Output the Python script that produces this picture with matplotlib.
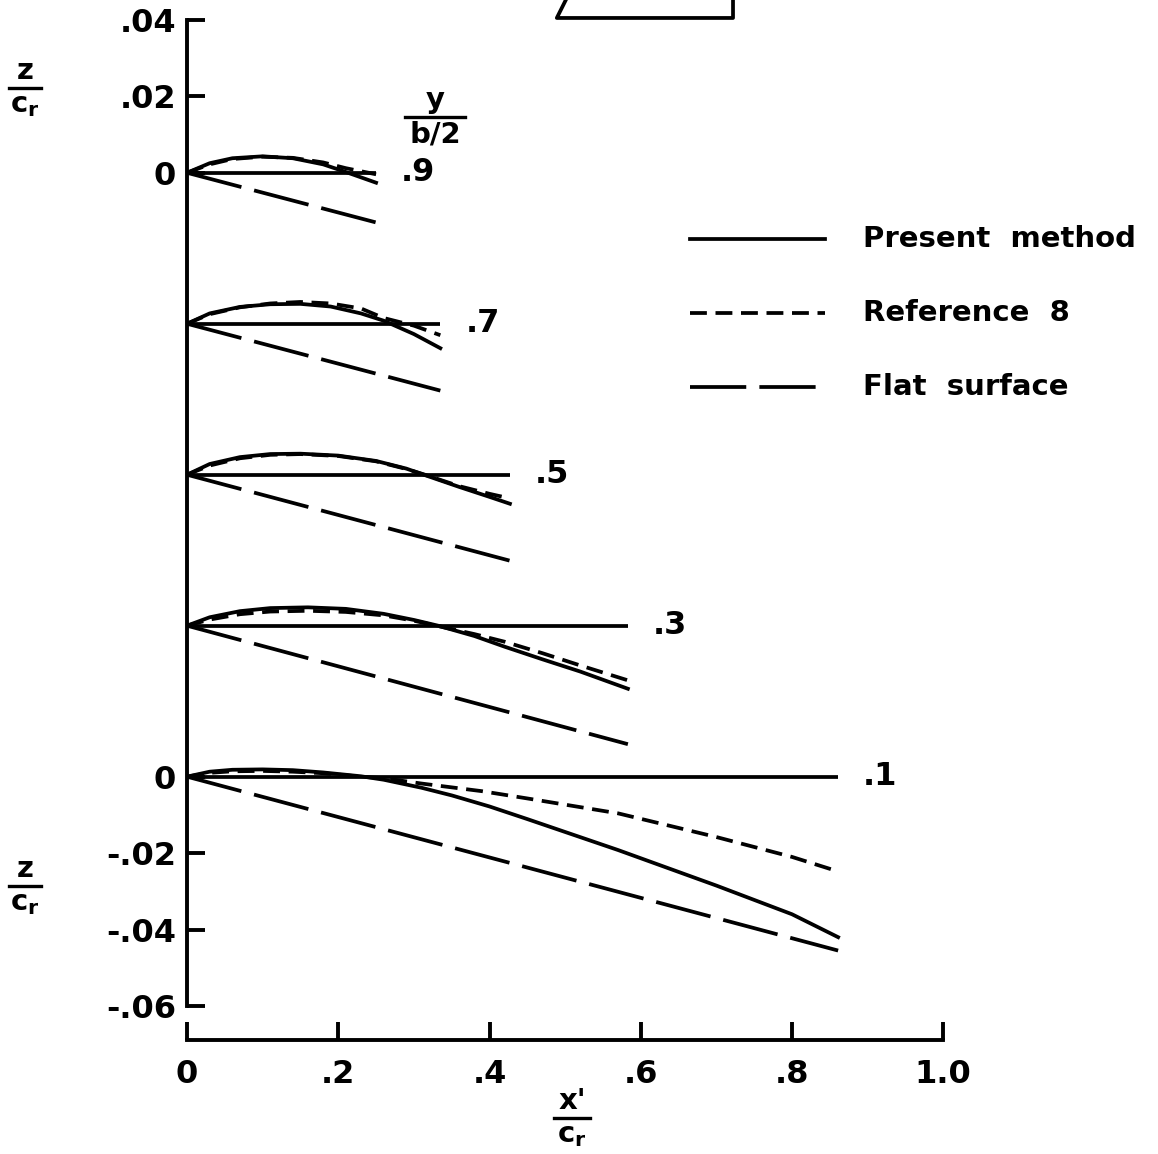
import numpy as np
import matplotlib.pyplot as plt

# ---------------------------------------------------------------
# data (z/cr relative to each station's zero)
# ---------------------------------------------------------------
stations = ['.9', '.7', '.5', '.3', '.1']
x_end = [0.25, 0.335, 0.427, 0.583, 0.861]

present_x = [
    [0, 0.03, 0.06, 0.10, 0.14, 0.18, 0.21, 0.25],
    [0, 0.03, 0.07, 0.11, 0.15, 0.19, 0.23, 0.26, 0.30, 0.335],
    [0, 0.03, 0.07, 0.11, 0.15, 0.20, 0.25, 0.29, 0.313, 0.36, 0.40, 0.427],
    [0, 0.03, 0.07, 0.11, 0.16, 0.21, 0.26, 0.30, 0.332, 0.38, 0.42, 0.47, 0.52, 0.583],
    [0, 0.03, 0.06, 0.10, 0.14, 0.18, 0.23, 0.26, 0.31, 0.35, 0.40, 0.45, 0.57, 0.70, 0.80, 0.861],
]
present_z = [
    [0, 0.0025, 0.0038, 0.0043, 0.0038, 0.0022, 0.0002, -0.0026],
    [0, 0.0027, 0.0044, 0.0051, 0.0052, 0.0045, 0.0027, 0.0008, -0.0027, -0.0064],
    [0, 0.0028, 0.0046, 0.0054, 0.0055, 0.0050, 0.0036, 0.0016, 0.0, -0.0032, -0.0058, -0.0076],
    [0, 0.0022, 0.0038, 0.0046, 0.0048, 0.0044, 0.0031, 0.0015, 0.0, -0.0027, -0.0055, -0.0088, -0.0120, -0.0165],
    [0, 0.0013, 0.0018, 0.0019, 0.0017, 0.0011, 0.0001, -0.0008, -0.0029, -0.0049, -0.0078, -0.0111, -0.0192, -0.0285, -0.0360, -0.042],
]

ref8_x = [
    [0, 0.03, 0.06, 0.10, 0.14, 0.18, 0.21, 0.25],
    [0, 0.03, 0.07, 0.11, 0.15, 0.19, 0.23, 0.26, 0.30, 0.335],
    [0, 0.03, 0.07, 0.11, 0.15, 0.20, 0.25, 0.29, 0.313, 0.36, 0.40, 0.427],
    [0, 0.03, 0.07, 0.11, 0.16, 0.21, 0.26, 0.30, 0.332, 0.38, 0.42, 0.47, 0.52, 0.583],
    [0, 0.03, 0.06, 0.10, 0.14, 0.18, 0.23, 0.26, 0.31, 0.39, 0.45, 0.57, 0.70, 0.80, 0.861],
]
ref8_z = [
    [0, 0.0022, 0.0036, 0.0042, 0.0039, 0.0027, 0.0012, -0.0004],
    [0, 0.0025, 0.0043, 0.0053, 0.0057, 0.0053, 0.0040, 0.0015, -0.0005, -0.0030],
    [0, 0.0024, 0.0043, 0.0052, 0.0054, 0.0049, 0.0035, 0.0015, 0.0001, -0.0030, -0.0050, -0.0062],
    [0, 0.0016, 0.0030, 0.0037, 0.0039, 0.0036, 0.0027, 0.0013, -0.0001, -0.0022, -0.0042, -0.0072, -0.0104, -0.0143],
    [0, 0.0010, 0.0014, 0.0015, 0.0013, 0.0009, 0.0, -0.0004, -0.0018, -0.0038, -0.0057, -0.0096, -0.0158, -0.0210, -0.0248],
]

flat_z_end = [-0.0130, -0.0175, -0.0225, -0.031, -0.0455]

x_ticks = [0, 0.2, 0.4, 0.6, 0.8, 1.0]
x_ticklabels = ['0', '.2', '.4', '.6', '.8', '1.0']
y_ticklabels = ['.04', '.02', '0', '0', '-.02', '-.04', '-.06']

# ---------------------------------------------------------------
# layout
# ---------------------------------------------------------------
STEP = 0.0395          # vertical spacing between stations
TOP = 4 * STEP
LW = 2.7
ref_ls = (0, (4.5, 2.3))
flat_ls = (0, (15, 3.5))

plt.rcParams['font.family'] = 'DejaVu Sans'
plt.rcParams['font.weight'] = 'bold'

W, H = 1158, 1154
fig = plt.figure(figsize=(W / 100, H / 100), dpi=100)
ax = fig.add_axes([187 / W, 114 / H, (1155 - 187) / W, 1 - 114 / H])
ax.set_xlim(0, 1.28)
ax.set_ylim(-0.0689, TOP + 0.0452)

for i, st in enumerate(stations):
    off = TOP - i * STEP
    ax.plot([0, x_end[i]], [off, off], color='black', lw=LW, solid_capstyle='butt')
    ax.plot(present_x[i], np.array(present_z[i]) + off, color='black', lw=LW)
    ax.plot(ref8_x[i], np.array(ref8_z[i]) + off, color='black', lw=LW, ls=ref_ls)
    ax.plot([0, x_end[i]], [off, off + flat_z_end[i]], color='black', lw=LW, ls=flat_ls)
    ax.text(x_end[i] + 0.033, off, st, fontsize=23, ha='left', va='center')

# legend drawn by hand
leg_y = [0.1407, 0.1213, 0.102]
leg_txt = ['Present  method', 'Reference  8', 'Flat  surface']
leg_ls = ['-', ref_ls, flat_ls]
for yy, t, ls in zip(leg_y, leg_txt, leg_ls):
    ax.plot([0.665, 0.844], [yy, yy], color='black', lw=LW, ls=ls)
    ax.text(0.894, yy, t, fontsize=21, ha='left', va='center')

# axes styling
for s in ['top', 'right']:
    ax.spines[s].set_visible(False)
ax.spines['left'].set_bounds(-0.06, TOP + 0.04)
ax.spines['bottom'].set_bounds(0, 1.0)
ax.spines['left'].set_linewidth(2.8)
ax.spines['bottom'].set_linewidth(2.8)

ax.set_xticks(x_ticks)
ax.set_xticklabels(x_ticklabels)
ax.set_yticks([TOP + 0.04, TOP + 0.02, TOP, 0, -0.02, -0.04, -0.06])
ax.set_yticklabels(y_ticklabels)
ax.tick_params(axis='x', direction='in', length=13, width=2.8, pad=14, labelsize=23)
ax.tick_params(axis='y', direction='in', length=13, width=2.8, pad=8, labelsize=23)

# partial planform sketch at the top
ax.plot([0.513, 0.489, 0.722, 0.722], [TOP + 0.05, TOP + 0.0405, TOP + 0.0405, TOP + 0.05],
        color='black', lw=LW, clip_on=False)


def frac(px, py, num, den, bar, size=21):
    fx, fy = px / W, 1 - py / H
    fig.text(fx, fy + 0.003, num, fontsize=size, ha='center', va='bottom')
    fig.text(fx, fy - 0.003, den, fontsize=size, ha='center', va='top')
    fig.add_artist(plt.Line2D([fx - bar / 2 / W, fx + bar / 2 / W], [fy, fy],
                              color='black', lw=2.4))


frac(25, 88, 'z', r'$\mathbf{c_r}$', 32)
frac(25, 886, 'z', r'$\mathbf{c_r}$', 32)
frac(435, 117, 'y', 'b/2', 60)
frac(572, 1118, "x'", r'$\mathbf{c_r}$', 36)

fig.savefig('out.png', dpi=100)
